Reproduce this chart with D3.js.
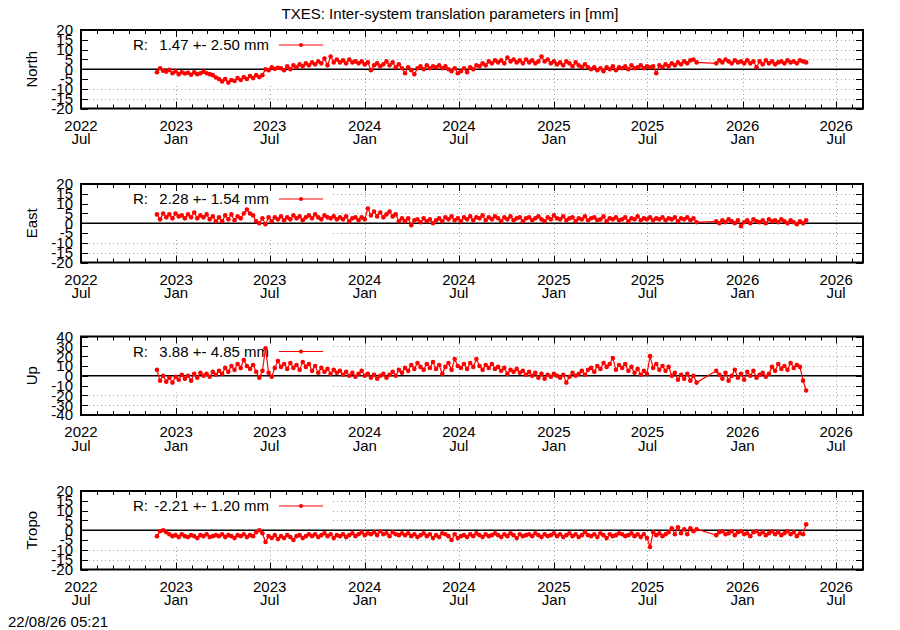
<!DOCTYPE html>
<html><head><meta charset="utf-8">
<script src="https://cdn.jsdelivr.net/npm/d3@7"></script>
<style>body{margin:0;background:#fff} text{font-family:"Liberation Sans",Arial,sans-serif;fill:#000}</style>
</head><body><svg id="c" width="900" height="630"></svg>
<script>
const title = "TXES: Inter-system translation parameters in [mm]";
const timestamp = "22/08/26 05:21";
const panelNames = ["North", "East", "Up", "Tropo"];
const statsText = ["1.47 +- 2.50 mm", "2.28 +- 1.54 mm", "3.88 +- 4.85 mm", "-2.21 +- 1.20 mm"];
const yMax = [20, 20, 40, 20];
const yStep = [5, 5, 10, 5];
const xDomain = ["2022-07-01", "2026-08-22"];
const tickDates = ["2022-07-01", "2023-01-01", "2023-07-01", "2024-01-01", "2024-07-01", "2025-01-01", "2025-07-01", "2026-01-01", "2026-07-01"];
const tickYears = ["2022", "2023", "2023", "2024", "2024", "2025", "2025", "2026", "2026"];
const tickMonths = ["Jul", "Jan", "Jul", "Jan", "Jul", "Jan", "Jul", "Jan", "Jul"];
const seg1Start = "2022-11-25", seg2Start = "2025-11-11", stepDays = 6;

const north1 = [-1.5,0.5,-0.8,-1.2,-0.3,-2.0,-1.0,-2.5,-1.5,-2.2, -1.8,-2.8,-1.5,-2.5,-2.0,-1.2,-2.0,-2.5,-3.0,-4.2,
 -5.0,-6.2,-5.0,-6.8,-5.5,-6.0,-4.5,-5.5,-4.0,-5.0, -3.5,-4.5,-3.0,-4.0,-3.0,0.0,-0.5,1.0,0.2,0.8,
 0.5,-0.5,1.5,0.0,2.0,1.0,2.5,1.5,3.0,2.0, 3.5,2.5,4.0,3.0,5.5,2.0,6.5,3.5,5.0,3.5,
 4.5,3.0,5.0,3.5,4.0,3.0,4.0,2.5,3.5,-0.5, 2.0,3.0,1.5,2.5,4.0,2.0,3.5,1.0,2.5,0.5,
 -2.0,1.0,-0.5,-2.5,0.5,1.5,0.0,2.0,0.5,1.5, 1.0,2.0,0.5,1.5,0.0,-1.0,0.5,-2.0,-1.0,0.5,
 -1.5,1.0,0.0,2.0,1.5,3.0,2.0,4.0,3.0,4.5, 3.5,4.5,3.0,6.0,4.0,5.0,3.5,4.5,3.0,5.0,
 3.5,4.5,3.0,4.0,6.5,4.0,5.0,3.0,4.0,2.5, 3.5,2.0,4.0,3.0,1.5,3.5,2.0,1.0,2.5,1.0,
 0.0,1.0,-0.5,0.5,-1.0,1.0,0.0,1.5,-0.5,1.0, 0.5,1.5,0.0,2.0,0.5,1.0,2.0,0.5,1.5,1.0,
 1.5,-2.0,2.0,1.0,2.5,1.5,3.0,2.0,3.5,2.5, 4.0,3.0,4.5,5.0,3.5];
const north2 = [3.0,4.5,3.5,5.0,4.0,3.0,4.5,3.5,4.0,3.0,4.5,3.0,4.0,1.0,4.0,2.5,4.5,3.0,4.0,2.5,3.5,4.0,3.0,4.5,3.5,4.0,3.0,4.5,4.0,3.5];

const east1 = [4.5,2.0,5.0,3.0,4.5,2.5,5.0,3.5,4.0,2.5, 4.5,3.0,5.5,2.5,4.0,3.0,4.5,2.0,3.5,1.0,
 3.0,1.0,4.0,2.0,4.5,1.5,3.5,2.5,5.0,7.0, 5.0,4.0,1.0,0.0,2.5,-0.5,3.0,1.0,3.0,2.0,
 3.5,1.5,3.0,2.0,4.0,2.5,3.5,1.5,3.0,4.0, 2.5,4.5,3.0,2.0,4.0,3.0,2.5,3.5,2.0,3.0,
 2.0,3.5,1.0,2.5,3.0,1.5,3.0,2.0,7.5,4.0, 6.0,3.5,5.5,3.0,4.5,6.0,3.5,4.5,1.0,2.5,
 1.0,2.5,-1.0,1.5,2.0,0.5,2.5,1.0,2.0,0.0, 1.5,2.5,1.0,3.0,2.0,3.5,1.5,2.5,1.0,3.0,
 2.0,3.5,1.5,3.0,2.5,4.0,1.5,3.0,2.0,3.5, 2.5,1.0,3.0,2.0,3.5,1.5,2.5,3.0,1.0,2.5,
 3.0,1.5,2.5,3.5,2.0,1.0,3.0,2.0,4.0,2.5, 2.0,3.5,1.5,2.5,3.0,1.0,2.5,2.0,3.5,1.5,
 2.5,3.0,1.5,2.0,3.5,1.0,2.5,2.0,3.0,1.5, 2.0,3.0,1.0,2.5,2.0,3.5,1.5,2.5,2.0,3.0,
 1.5,2.5,2.0,3.0,1.5,2.5,2.0,3.0,1.0,2.5, 2.0,3.0,1.5,2.5,0.5];
const east2 = [1.0,0.0,1.5,0.5,2.0,1.0,0.0,1.5,-1.5,0.5,1.5,0.0,2.0,1.0,0.5,1.5,0.0,2.0,1.0,1.5,0.5,2.0,1.0,0.0,1.5,0.5,-0.5,1.0,0.0,1.5];

const up1 = [6.0,-5.0,0.0,-6.0,-2.0,-7.0,-1.0,-4.0,1.0,-3.0, 0.0,-5.0,2.0,-2.0,3.0,0.0,2.0,-1.0,4.0,1.0,
 5.0,2.0,8.0,4.0,10.0,6.0,12.0,8.0,16.0,10.0, 7.0,11.0,4.0,-2.0,5.0,28.0,3.0,-1.0,8.0,15.0,
 9.0,12.0,7.0,13.0,8.0,11.0,6.0,14.0,9.0,12.0, 5.0,10.0,3.0,8.0,4.0,7.0,2.0,6.0,3.0,5.0,
 1.0,4.0,0.0,3.0,-1.0,2.0,5.0,0.0,2.0,-2.0, 1.0,-3.0,0.0,2.0,-2.0,1.0,4.0,0.0,6.0,3.0,
 8.0,5.0,11.0,7.0,13.0,9.0,6.0,12.0,8.0,14.0, 7.0,11.0,2.0,9.0,13.0,6.0,17.0,10.0,8.0,12.0,
 7.0,13.0,9.0,17.0,10.0,6.0,11.0,8.0,12.0,7.0, 9.0,5.0,8.0,2.0,6.0,4.0,7.0,3.0,5.0,1.0,
 4.0,0.0,3.0,-2.0,2.0,-3.0,1.0,-1.0,2.0,0.0, -2.0,1.0,-7.0,-1.0,3.0,0.0,2.0,5.0,1.0,6.0,
 8.0,4.0,10.0,7.0,13.0,9.0,12.0,18.0,6.0,11.0, 8.0,12.0,5.0,9.0,3.0,7.0,1.0,5.0,2.0,20.0,
 8.0,12.0,6.0,10.0,5.0,9.0,0.0,3.0,-4.0,1.0, -3.0,2.0,-5.0,0.0,-7.0];
const up2 = [5.0,1.0,-3.0,3.0,-5.0,0.0,6.0,-2.0,2.0,-4.0,4.0,0.0,5.0,-2.0,1.0,3.0,-1.0,2.0,9.0,5.0,12.0,7.0,10.0,6.0,13.0,8.0,11.0,9.0,-5.0,-15.0];

const tropo1 = [-3.0,-0.5,0.0,-1.0,-2.0,-3.0,-2.5,-3.5,-2.0,-3.0, -3.5,-2.5,-3.0,-4.0,-2.5,-3.0,-2.0,-3.5,-3.0,-2.5,
 -3.0,-2.0,-3.5,-2.5,-3.0,-4.0,-2.5,-3.0,-2.0,-3.5, -2.5,-3.0,-1.0,0.0,-1.5,-6.0,-3.0,-4.0,-2.5,-4.5,
 -3.0,-4.0,-2.5,-3.5,-5.0,-3.0,-2.5,-4.0,-3.0,-2.0, -3.0,-2.0,-3.5,-2.5,-1.5,-3.0,-2.0,-4.0,-2.5,-3.0,
 -2.0,-3.5,-2.5,-1.5,-3.0,-2.0,-1.0,-2.5,-1.5,-2.0, -1.0,-2.5,-0.5,-2.0,-1.5,-3.0,-1.0,-2.0,-2.5,-1.5,
 -2.5,-1.5,-3.0,-2.0,-3.5,-2.5,-1.5,-3.0,-2.0,-4.0, -2.5,-3.5,-1.5,-2.0,-3.0,-5.0,-2.0,-4.0,-3.0,-2.5,
 -3.5,-2.0,-3.0,-1.5,-2.5,-3.5,-2.0,-3.0,-2.5,-1.5, -2.5,-3.5,-2.0,-3.0,-1.5,-2.5,-4.0,-2.0,-3.0,-2.5,
 -2.0,-3.0,-1.5,-2.5,-3.5,-2.0,-3.0,-2.5,-1.5,-3.0, -2.0,-3.5,-2.5,-1.5,-3.0,-2.0,-3.5,-2.5,-1.0,-2.5,
 -3.0,-2.0,-3.5,-1.5,-2.5,-4.0,-2.0,-3.0,-2.5,-1.5, -2.0,-3.0,-2.5,-1.5,-3.0,-2.0,-3.5,-2.0,-4.0,-8.5,
 -1.0,-2.5,-1.5,-3.0,-2.0,-1.0,1.0,-2.0,1.5,-1.5, 0.5,-2.0,1.0,-0.5,0.5];
const tropo2 = [-2.5,-1.0,-0.5,-2.0,-1.5,-0.5,-2.5,-1.0,-0.5,-2.0,-1.5,-3.0,-1.0,-0.5,-2.0,-1.0,-2.5,-1.5,-0.5,-2.0,-1.0,-2.5,-1.5,-0.5,-2.0,-1.0,-3.0,-1.5,-2.0,3.0];

const seriesA = [north1, east1, up1, tropo1];
const seriesB = [north2, east2, up2, tropo2];

const svg = d3.select("#c");
const parse = d3.utcParse("%Y-%m-%d");
const X0 = 81, X1 = 863;
const panelTops = [30, 184, 336.5, 491], panelH = 78.5;
const FS = 15;
const x = d3.scaleUtc().domain(xDomain.map(parse)).range([X0, X1]);
const majors = tickDates.map(parse);
const minors = d3.utcMonth.range(parse(xDomain[0]), parse(xDomain[1]));

function mk(arr, start) {
  const s = parse(start);
  return arr.map((v, i) => ({d: d3.utcDay.offset(s, i * stepDays), v}));
}

svg.append("text").attr("x", 450).attr("y", 19).attr("text-anchor", "middle")
  .style("font-size", FS + "px").text(title);

panelNames.forEach((name, p) => {
  const top = panelTops[p], bot = top + panelH;
  const y = d3.scaleLinear().domain([-yMax[p], yMax[p]]).range([bot, top]);
  const yt = d3.range(-yMax[p], yMax[p] + 0.001, yStep[p]);
  const g = svg.append("g");
  // grid
  const grid = g.append("g").attr("stroke", "#a0a0a0").attr("stroke-width", 1).attr("stroke-dasharray", "1,3");
  yt.filter(v => Math.abs(v) < yMax[p] && v !== 0).forEach(v => {
    grid.append("line").attr("x1", X0).attr("x2", X1).attr("y1", Math.round(y(v)) + 0.5).attr("y2", Math.round(y(v)) + 0.5);
  });
  majors.forEach(d => {
    grid.append("line").attr("x1", Math.round(x(d)) + 0.5).attr("x2", Math.round(x(d)) + 0.5).attr("y1", top).attr("y2", bot);
  });
  // opaque key box
  g.append("rect").attr("x", X0 + 1).attr("y", top + 1).attr("width", 330 - X0 - 1).attr("height", y(-yMax[p] + 2 * yStep[p]) - top - 4).attr("fill", "#fff");
  // zero line
  g.append("line").attr("x1", X0).attr("x2", X1).attr("y1", y(0)).attr("y2", y(0)).attr("stroke", "#000").attr("stroke-width", 1.3);
  // ticks
  const tk = g.append("g").attr("stroke", "#000").attr("stroke-width", 1);
  minors.forEach(d => {
    const xx = Math.round(x(d)) + 0.5;
    const isMaj = majors.some(m => +m === +d);
    const L = isMaj ? 7 : 4;
    tk.append("line").attr("x1", xx).attr("x2", xx).attr("y1", bot).attr("y2", bot - L);
    tk.append("line").attr("x1", xx).attr("x2", xx).attr("y1", top).attr("y2", top + L);
  });
  yt.forEach(v => {
    const yy = Math.round(y(v)) + 0.5;
    tk.append("line").attr("x1", X0).attr("x2", X0 + 7).attr("y1", yy).attr("y2", yy);
    tk.append("line").attr("x1", X1).attr("x2", X1 - 7).attr("y1", yy).attr("y2", yy);
  });
  // y labels
  yt.forEach(v => {
    g.append("text").attr("x", 73).attr("y", y(v)).attr("dy", "0.36em").attr("text-anchor", "end")
      .style("font-size", FS + "px").text(v);
  });
  // x labels
  majors.forEach((d, i) => {
    g.append("text").attr("x", x(d)).attr("y", bot + 22).attr("text-anchor", "middle").style("font-size", FS + "px").text(tickYears[i]);
    g.append("text").attr("x", x(d)).attr("y", bot + 35.5).attr("text-anchor", "middle").style("font-size", FS + "px").text(tickMonths[i]);
  });
  // axis title
  g.append("text").attr("transform", `translate(37,${(top + bot) / 2}) rotate(-90)`).attr("text-anchor", "middle")
    .style("font-size", FS + "px").text(name);
  // key
  g.append("text").attr("x", 133).attr("y", top + 20).style("font-size", FS + "px").text("R:");
  g.append("text").attr("x", 269).attr("y", top + 20).attr("text-anchor", "end").style("font-size", FS + "px").text(statsText[p]);
  g.append("line").attr("x1", 279).attr("x2", 323).attr("y1", top + 15).attr("y2", top + 15).attr("stroke", "#f00").attr("stroke-width", 1);
  g.append("circle").attr("cx", 301).attr("cy", top + 15).attr("r", 2).attr("fill", "#f00");
  // data
  const pts = mk(seriesA[p], seg1Start).concat(mk(seriesB[p], seg2Start));
  const line = d3.line().x(d => x(d.d)).y(d => y(d.v));
  g.append("path").datum(pts).attr("d", line).attr("fill", "none").attr("stroke", "#f00").attr("stroke-width", 1.2);
  g.selectAll("circle.pt").data(pts).enter().append("circle").attr("class", "pt")
    .attr("cx", d => x(d.d)).attr("cy", d => y(d.v)).attr("r", 2.3).attr("fill", "#f00");
  // frame
  g.append("rect").attr("x", X0).attr("y", top).attr("width", X1 - X0).attr("height", panelH)
    .attr("fill", "none").attr("stroke", "#000").attr("stroke-width", 2);
});

svg.append("text").attr("x", 8).attr("y", 627).style("font-size", "15px").text(timestamp);
</script></body></html>
